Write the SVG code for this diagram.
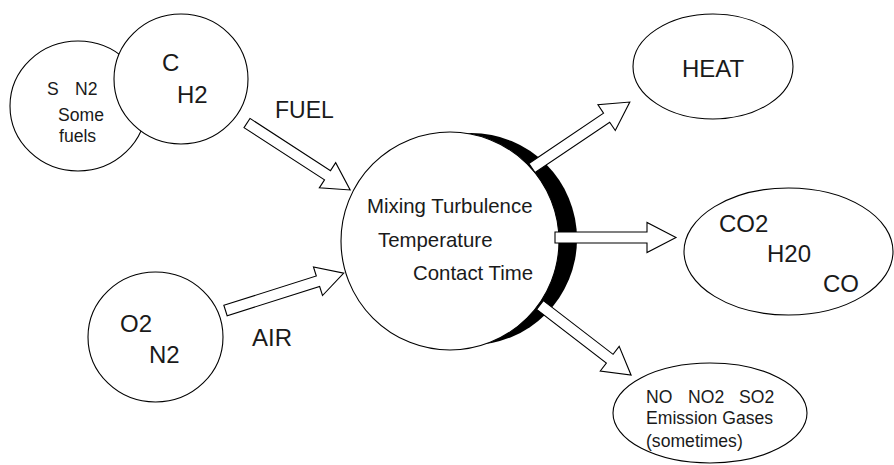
<svg xmlns="http://www.w3.org/2000/svg" width="894" height="465" viewBox="0 0 894 465">
<style>
.n{fill:#fff;stroke:#000;stroke-width:1.1}
.a{fill:#fff;stroke:#000;stroke-width:1.1;stroke-linejoin:miter}
text{font-family:"Liberation Sans",Arial,sans-serif;fill:#1a1a1a}
.s{font-size:17.6px}
.m{font-size:20.4px}
.l{font-size:24px}
</style>
<rect width="894" height="465" fill="#fff"/>
<g id="fuel-other">
<ellipse class="n" cx="78" cy="106" rx="68" ry="65"/>
<text class="s" x="47" y="95">S</text>
<text class="s" x="75" y="95">N2</text>
<text class="s" x="58" y="121">Some</text>
<text class="s" x="59" y="142">fuels</text>
</g>
<g id="fuel-main">
<ellipse class="n" cx="181" cy="79" rx="67" ry="65"/>
<text class="l" x="162" y="71">C</text>
<text class="l" x="177" y="103">H2</text>
</g>
<g id="air">
<ellipse class="n" cx="155.5" cy="337" rx="67.5" ry="65"/>
<text class="l" x="120" y="332">O2</text>
<text class="l" x="149" y="363">N2</text>
</g>
<g id="combustion">
<circle cx="471" cy="239" r="106" fill="#000"/>
<circle class="n" cx="450" cy="241" r="109"/>
</g>
<g id="heat">
<ellipse class="n" cx="713" cy="66.5" rx="80" ry="52.5"/>
<text class="l" x="682" y="77">HEAT</text>
</g>
<g id="products">
<ellipse class="n" cx="788.5" cy="251.5" rx="104.5" ry="63.5"/>
<text class="l" x="719" y="232">CO2</text>
<text class="l" x="767" y="262">H20</text>
<text class="l" x="823" y="292">CO</text>
</g>
<g id="emissions">
<ellipse class="n" cx="710" cy="413" rx="97" ry="50"/>
<text class="s" x="646" y="403">NO</text>
<text class="s" x="688" y="403">NO2</text>
<text class="s" x="739" y="403">SO2</text>
<text class="s" x="646" y="424">Emission Gases</text>
<text class="s" x="646" y="447">(sometimes)</text>
</g>
<g id="connectors">
<path class="a" transform="translate(247,123) rotate(33)" d="M0,-5.5 L96,-5.5 L96,-15 L123,0 L96,15 L96,5.5 L0,5.5 Z"/>
<path class="a" transform="translate(225.5,310.5) rotate(-17.56)" d="M0,-5.5 L97,-5.5 L97,-15 L124,0 L97,15 L97,5.5 L0,5.5 Z"/>
<path class="a" transform="translate(532,168) rotate(-34)" d="M0,-5.5 L90,-5.5 L90,-15.5 L118,0 L90,15.5 L90,5.5 L0,5.5 Z"/>
<path class="a" transform="translate(555,237.5)" d="M0,-5.5 L92,-5.5 L92,-15 L121,0 L92,15 L92,5.5 L0,5.5 Z"/>
<path class="a" transform="translate(540,305) rotate(37.6)" d="M0,-5.5 L88,-5.5 L88,-15.5 L115,0 L88,15.5 L88,5.5 L0,5.5 Z"/>
</g>
<g id="labels">
<text class="l" x="275" y="118" style="font-size:23px">FUEL</text>
<text class="l" x="252" y="346">AIR</text>
<text class="m" x="367" y="213">Mixing Turbulence</text>
<text class="m" x="378" y="247">Temperature</text>
<text class="m" x="413" y="280">Contact Time</text>
</g>
</svg>
